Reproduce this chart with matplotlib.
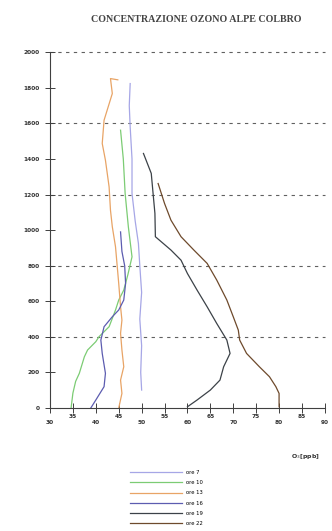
import matplotlib
matplotlib.use("Agg")
import matplotlib.pyplot as plt


# ==========================================================
# Data
# ==========================================================

TITLE = "CONCENTRAZIONE OZONO ALPE COLBRO"

LABELS = ["ore 7", "ore 10", "ore 13", "ore 16", "ore 19", "ore 22"]

COLORS = ["#a6a6e6", "#7ccc74", "#e8a466", "#5c5cb0", "#3c4248", "#6e4a2c"]

# ore 7
X_07 = [50.0, 49.8, 50.0, 49.6, 50.0, 49.6, 49.3, 48.6, 47.9, 47.9, 47.5, 47.3, 47.5]
Y_07 = [101, 200, 350, 500, 650, 800, 925, 1050, 1206, 1400, 1580, 1700, 1824]

# ore 10
X_10 = [34.6, 35.0, 35.6, 36.4, 37.5, 38.2, 40.0, 40.7, 42.9, 44.3, 45.0, 46.1,
        47.0, 47.9, 47.1, 46.4, 46.0, 45.4]
Y_10 = [0, 84, 150, 195, 288, 326, 373, 401, 457, 551, 607, 663,
        750, 850, 1019, 1206, 1400, 1562]

# ore 13
X_13 = [45.0, 45.7, 45.4, 46.1, 45.7, 45.4, 45.7, 45.4, 45.0, 44.3, 43.6,
        43.2, 42.9, 42.1, 41.4, 41.8, 43.6, 43.2, 44.8]
Y_13 = [0, 82, 157, 232, 326, 420, 494, 569, 700, 906, 1019,
        1112, 1243, 1393, 1487, 1618, 1768, 1852, 1845]

# ore 16
X_16 = [38.9, 40.0, 41.8, 42.1, 41.4, 41.1, 41.8, 43.6, 45.0, 46.1, 46.5,
        46.3, 45.7, 45.4]
Y_16 = [0, 45, 120, 195, 307, 382, 457, 513, 551, 607, 700,
        800, 880, 990]

# ore 19
X_19 = [60.0, 62.1, 65.0, 67.1, 67.9, 69.3, 68.6, 66.4, 64.3, 62.1, 60.0,
        58.6, 56.4, 53.0, 52.9, 52.5, 52.1, 50.4]
Y_19 = [7, 45, 101, 157, 232, 307, 382, 475, 569, 663, 756,
        831, 888, 963, 1094, 1206, 1319, 1431]

# ore 22
X_22 = [80.0, 80.0, 79.3, 77.9, 75.7, 72.9, 71.4, 71.1, 70.0, 68.6, 66.4,
        64.3, 61.4, 58.6, 56.4, 55.0, 54.3, 53.6]
Y_22 = [7, 82, 120, 176, 232, 307, 382, 438, 513, 607, 719,
        813, 888, 963, 1056, 1150, 1206, 1262]

X_MAJOR = [30, 40, 50, 60, 70, 80, 90]
X_MINOR = [35, 45, 55, 65, 75, 85]
Y_TICKS = list(range(0, 2001, 200))
Y_GRID = [400, 800, 1200, 1600, 2000]


# ==========================================================
# Plot
# ==========================================================

fig = plt.figure(figsize=(3.32, 5.31), dpi=100)
ax = fig.add_axes([0.1506, 0.2316, 0.828, 0.670])

series = [(X_07, Y_07), (X_10, Y_10), (X_13, Y_13),
          (X_16, Y_16), (X_19, Y_19), (X_22, Y_22)]

for (xs, ys), lab, col in zip(series, LABELS, COLORS):
    ax.plot(xs, ys, color=col, lw=0.9, label=lab)

for gy in Y_GRID:
    ax.axhline(gy, color="#606060", lw=0.8, ls=(0, (3, 4)), zorder=0,
               clip_on=False)

ax.set_xlim(30, 90)
ax.set_ylim(0, 2000)

for s in ["top", "right"]:
    ax.spines[s].set_visible(False)
for s in ["left", "bottom"]:
    ax.spines[s].set_color("#404040")
    ax.spines[s].set_linewidth(0.8)

ax.set_yticks(Y_TICKS, [str(v) for v in Y_TICKS])
ax.set_xticks(X_MAJOR, [str(v) for v in X_MAJOR])
ax.set_xticks(X_MINOR, [str(v) for v in X_MINOR], minor=True)

ax.tick_params(axis="both", which="both", direction="inout", length=7,
               width=0.7, color="#404040", labelsize=4.2,
               labelcolor="#333333")
ax.tick_params(axis="x", which="major", pad=5)
ax.tick_params(axis="x", which="minor", pad=0.5)
ax.tick_params(axis="y", pad=4)

for t in ax.get_xticklabels(which="both") + ax.get_yticklabels():
    t.set_fontweight("bold")

ax.set_xlabel("O$_3$[ppb]", fontsize=4.5, fontweight="bold", color="#333333")
ax.xaxis.set_label_coords(0.93, -0.125)

fig.text(0.59, 0.964, TITLE, ha="center", va="center", fontsize=7.2,
         family="Liberation Serif", fontweight="bold", color="#444444")

fig.legend(loc="upper center", bbox_to_anchor=(0.5, 0.12), frameon=False,
           fontsize=3.8, handlelength=10, labelspacing=1.0,
           handletextpad=0.6, borderpad=0)

fig.savefig("out.png", dpi=100)
